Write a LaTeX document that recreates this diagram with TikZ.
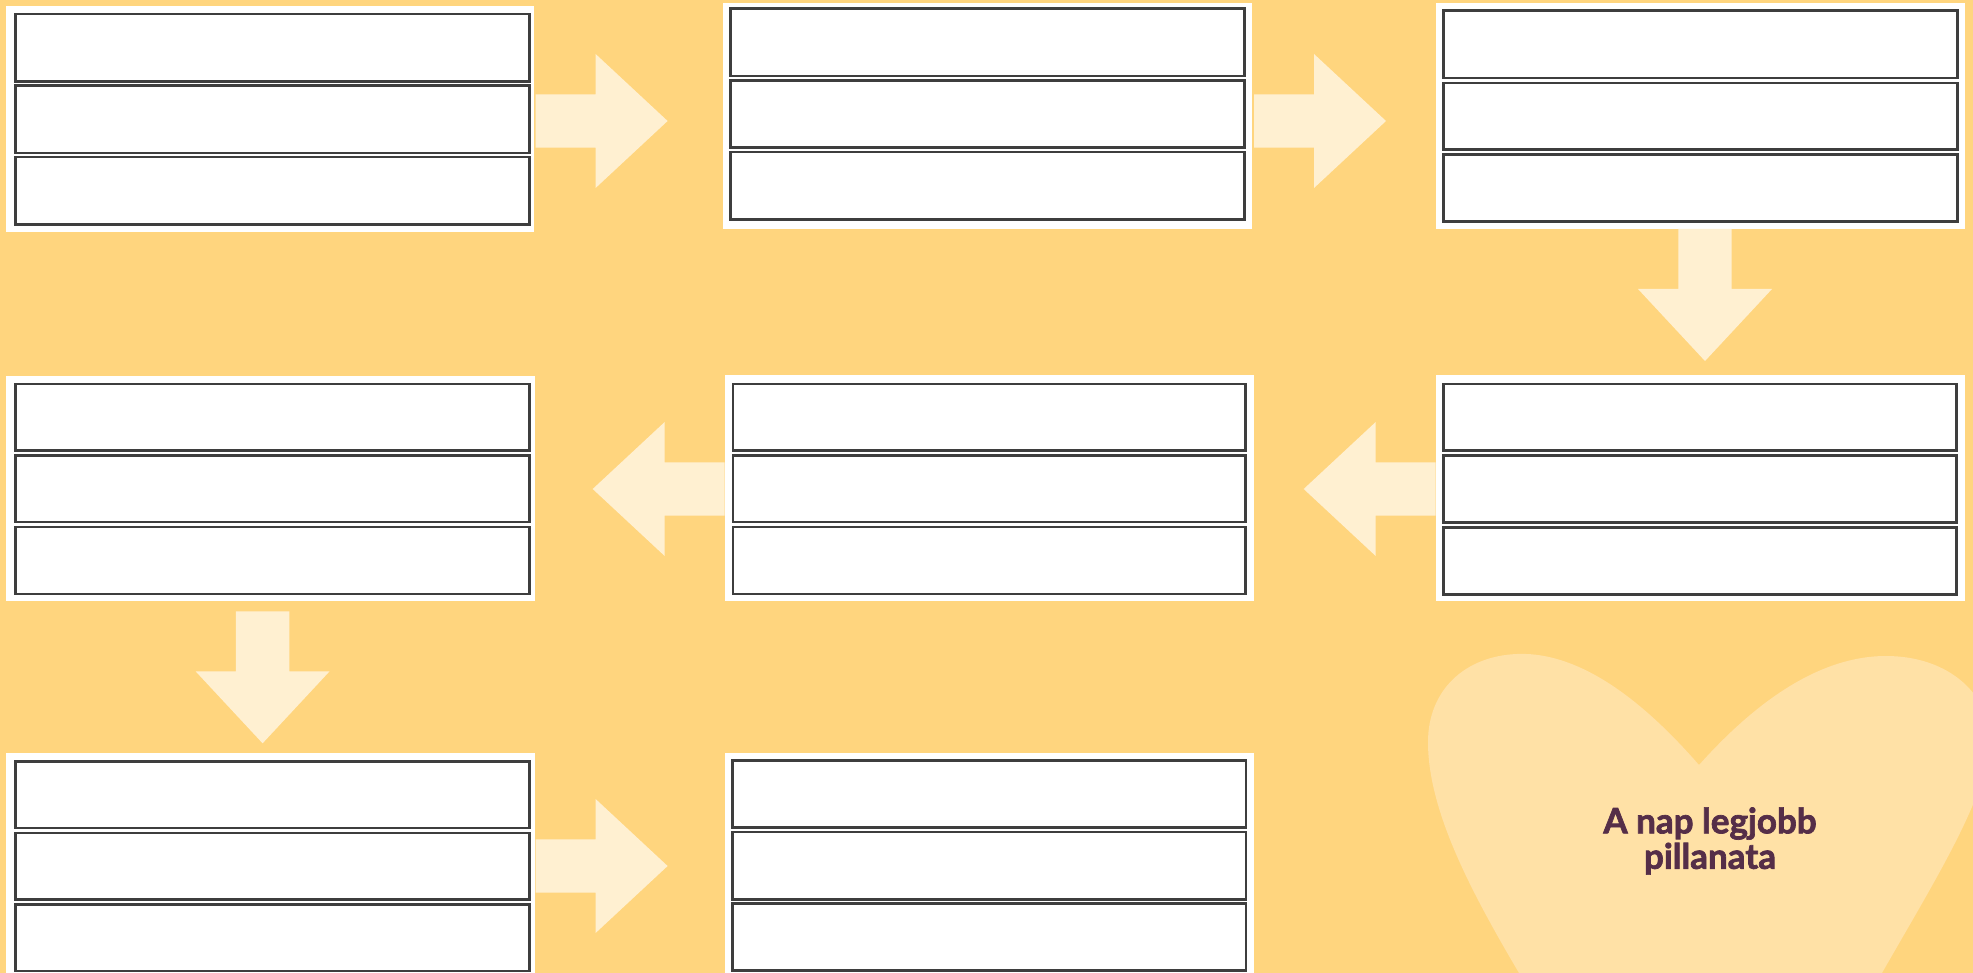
\documentclass[tikz,border=0pt]{standalone}
\usepackage{fontspec}
\newfontfamily\heartfont{Lato}[BoldFeatures={FakeBold=2}]
\usetikzlibrary{fit}
\definecolor{bgc}{HTML}{FFD57E}
\definecolor{arrc}{HTML}{FFF0D1}
\definecolor{heartc}{HTML}{FFE1A6}
\definecolor{txtc}{HTML}{552E48}
\definecolor{linec}{HTML}{3E3E3E}
\tikzset{
  panel/.style={fill=white, draw=none, inner sep=0pt, outer sep=0pt},
  cell/.style={fill=white, draw=linec, line width=2.8pt, inner sep=0pt, outer sep=0pt},
  blockarr/.pic={\fill[arrc] (0,-26.7) -- (60,-26.7) -- (60,-67) -- (132,0) -- (60,67) -- (60,26.7) -- (0,26.7) -- cycle;},
  hearttext/.style={font=\heartfont\bfseries\fontsize{35}{35.4}\selectfont, text=txtc, align=center, inner sep=0pt}
}
\begin{document}
\begin{tikzpicture}[x=1pt,y=-1pt]
\useasboundingbox (0,0) rectangle (1973,973);
\clip (0,0) rectangle (1973,973);
\fill[bgc] (0,0) rectangle (1973,973);
% heart
\fill[heartc] (1699,765) .. controls (1625,680) and (1565,652) .. (1517,654)
  .. controls (1465,656) and (1428,690) .. (1428,742)
  .. controls (1428,810) and (1470,890) .. (1519,973)
  .. controls (1570,1060) and (1650,1160) .. (1700,1250)
  .. controls (1760,1150) and (1830,1060) .. (1882,973)
  .. controls (1935,880) and (1992,790) .. (1990,735)
  .. controls (1986,690) and (1945,656) .. (1886,656)
  .. controls (1815,656) and (1750,708) .. (1699,765) -- cycle;
\node[hearttext] (ht) at (1710,841) {A nap legjobb\\pillanata};
% panels
\node[panel, fit={(5.8,6) (534.4,231.7)}] (p1) {};
\node[cell, fit={(15.6,14) (529.1,81.4)}] (p1a) {};
\node[cell, fit={(15.6,85.6) (529.1,153)}] (p1b) {};
\node[cell, fit={(15.6,157) (529.1,224.4)}] (p1c) {};

\node[panel, fit={(723,3) (1252,229)}] (p2) {};
\node[cell, fit={(730.6,8.6) (1244.7,76)}] (p2a) {};
\node[cell, fit={(730.6,80.6) (1244.7,147.7)}] (p2b) {};
\node[cell, fit={(730.6,152) (1244.7,219.4)}] (p2c) {};

\node[panel, fit={(1436,3) (1965.3,229)}] (p3) {};
\node[cell, fit={(1443.3,10.6) (1957.4,78)}] (p3a) {};
\node[cell, fit={(1443.3,83) (1957.4,149.7)}] (p3b) {};
\node[cell, fit={(1443.3,154.3) (1957.4,221.2)}] (p3c) {};

\node[panel, fit={(1436,375) (1965,601)}] (p4) {};
\node[cell, fit={(1443.5,384) (1956.7,450.4)}] (p4a) {};
\node[cell, fit={(1443.5,455.6) (1956.7,522.4)}] (p4b) {};
\node[cell, fit={(1443.5,527.3) (1956.7,594.4)}] (p4c) {};

\node[panel, fit={(725.3,375) (1254,600.7)}] (p5) {};
\node[cell, fit={(733,384) (1245.7,450.4)}] (p5a) {};
\node[cell, fit={(733,455.6) (1245.7,522)}] (p5b) {};
\node[cell, fit={(733,527) (1245.7,594)}] (p5c) {};

\node[panel, fit={(5.8,375.7) (535,601.3)}] (p6) {};
\node[cell, fit={(15.6,384) (529.4,450.4)}] (p6a) {};
\node[cell, fit={(15.6,455.6) (529.4,522)}] (p6b) {};
\node[cell, fit={(15.6,527) (529.4,594)}] (p6c) {};

\node[panel, fit={(5.8,753) (535,985)}] (p7) {};
\node[cell, fit={(15.6,761.3) (529.1,828)}] (p7a) {};
\node[cell, fit={(15.6,833) (529.1,899.7)}] (p7b) {};
\node[cell, fit={(15.6,904.3) (529.1,971)}] (p7c) {};

\node[panel, fit={(724.9,753) (1254.2,985)}] (p8) {};
\node[cell, fit={(732.7,760.6) (1246,827.7)}] (p8a) {};
\node[cell, fit={(732.7,832) (1246,899.4)}] (p8b) {};
\node[cell, fit={(732.7,903.6) (1246,970.7)}] (p8c) {};
% arrows
\pic at (535.6,121) {blockarr};
\pic at (1254,121) {blockarr};
\pic[rotate=-90] at (1705,229) {blockarr};
\pic[rotate=180] at (1435.7,489) {blockarr};
\pic[rotate=180] at (724.7,489) {blockarr};
\pic[rotate=-90] at (262.6,611.3) {blockarr};
\pic at (535.6,866) {blockarr};
\end{tikzpicture}
\end{document}
